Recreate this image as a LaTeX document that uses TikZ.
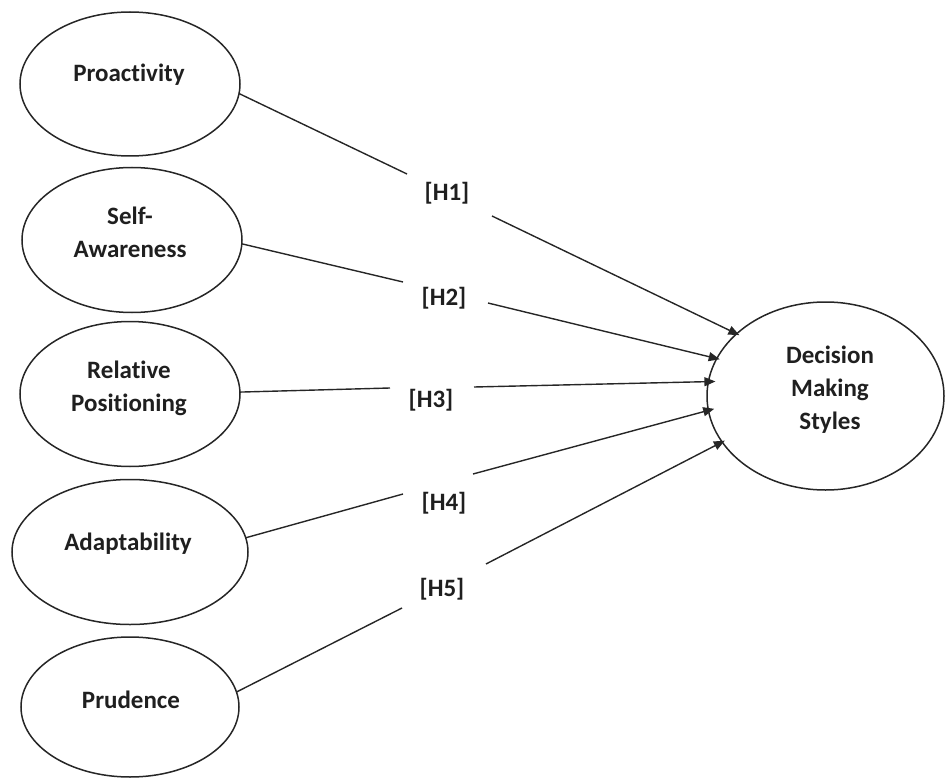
\documentclass[tikz,border=0pt]{standalone}
\usepackage{fontspec}
\setmainfont{Carlito}[Ligatures=NoCommon]
\usetikzlibrary{shapes.geometric,arrows.meta}
\begin{document}
\begin{tikzpicture}[x=1pt,y=-1pt,
  ell/.style={draw=black!85, line width=1.5pt, ellipse, inner sep=0pt, outer sep=0pt},
  txt/.style={font=\fontsize{25}{33}\selectfont\bfseries, align=center, text=black!88, inner sep=0pt},
  lnk/.style={draw=black!85, line width=1.4pt},
  arr/.style={lnk, -{Triangle[length=11pt,width=9pt]}, shorten >=-3pt}
]
\useasboundingbox (0,0) rectangle (945,778);
% ellipses
\node[ell, minimum width=220pt, minimum height=144pt] (p) at (130,84) {};
\node[ell, minimum width=220pt, minimum height=145pt] (s) at (132,240) {};
\node[ell, minimum width=220pt, minimum height=145pt] (r) at (130,394) {};
\node[ell, minimum width=236pt, minimum height=145pt] (a) at (130,552) {};
\node[ell, minimum width=218pt, minimum height=140pt] (u) at (130,707) {};
\node[ell, minimum width=237pt, minimum height=188pt] (d) at (825.5,396) {};
% texts
\node[txt] (pt) at (129,75) {Proactivity};
\node[txt] (st) at (130,232) {Self-\\Awareness};
\node[txt] (rt) at (129,388) {Relative\\Positioning};
\node[txt] (at) at (128,544) {Adaptability};
\node[txt] (ut) at (131,700) {Prudence};
\node[txt] (dt) at (830,390) {Decision\\Making\\Styles};
% hypothesis labels
\node[txt] (h1) at (447,193) {[H1]};
\node[txt] (h2) at (444,298) {[H2]};
\node[txt] (h3) at (431,400) {[H3]};
\node[txt] (h4) at (444,503) {[H4]};
\node[txt] (h5) at (442,589) {[H5]};
% gap ends
\coordinate (h1a) at (407,174); \coordinate (h1b) at (492,216);
\coordinate (h2a) at (403,282); \coordinate (h2b) at (488,303);
\coordinate (h3a) at (390,388); \coordinate (h3b) at (474,387);
\coordinate (h4a) at (403,494); \coordinate (h4b) at (473,474);
\coordinate (h5a) at (402,608); \coordinate (h5b) at (486,564);
% connectors
\draw[lnk] (p.-5) -- (h1a);
\draw[arr] (h1b) -- (d.145);
\draw[lnk] (s.-2) -- (h2a);
\draw[arr] (h2b) -- (d.161);
\draw[lnk] (r.1) -- (h3a);
\draw[arr, shorten >=-7pt] (h3b) -- (d.173);
\draw[lnk] (a.7) -- (h4a);
\draw[arr, shorten >=-6pt] (h4b) -- (d.-173);
\draw[lnk] (u.8) -- (h5a);
\draw[arr] (h5b) -- (d.-156);
\end{tikzpicture}
\end{document}
